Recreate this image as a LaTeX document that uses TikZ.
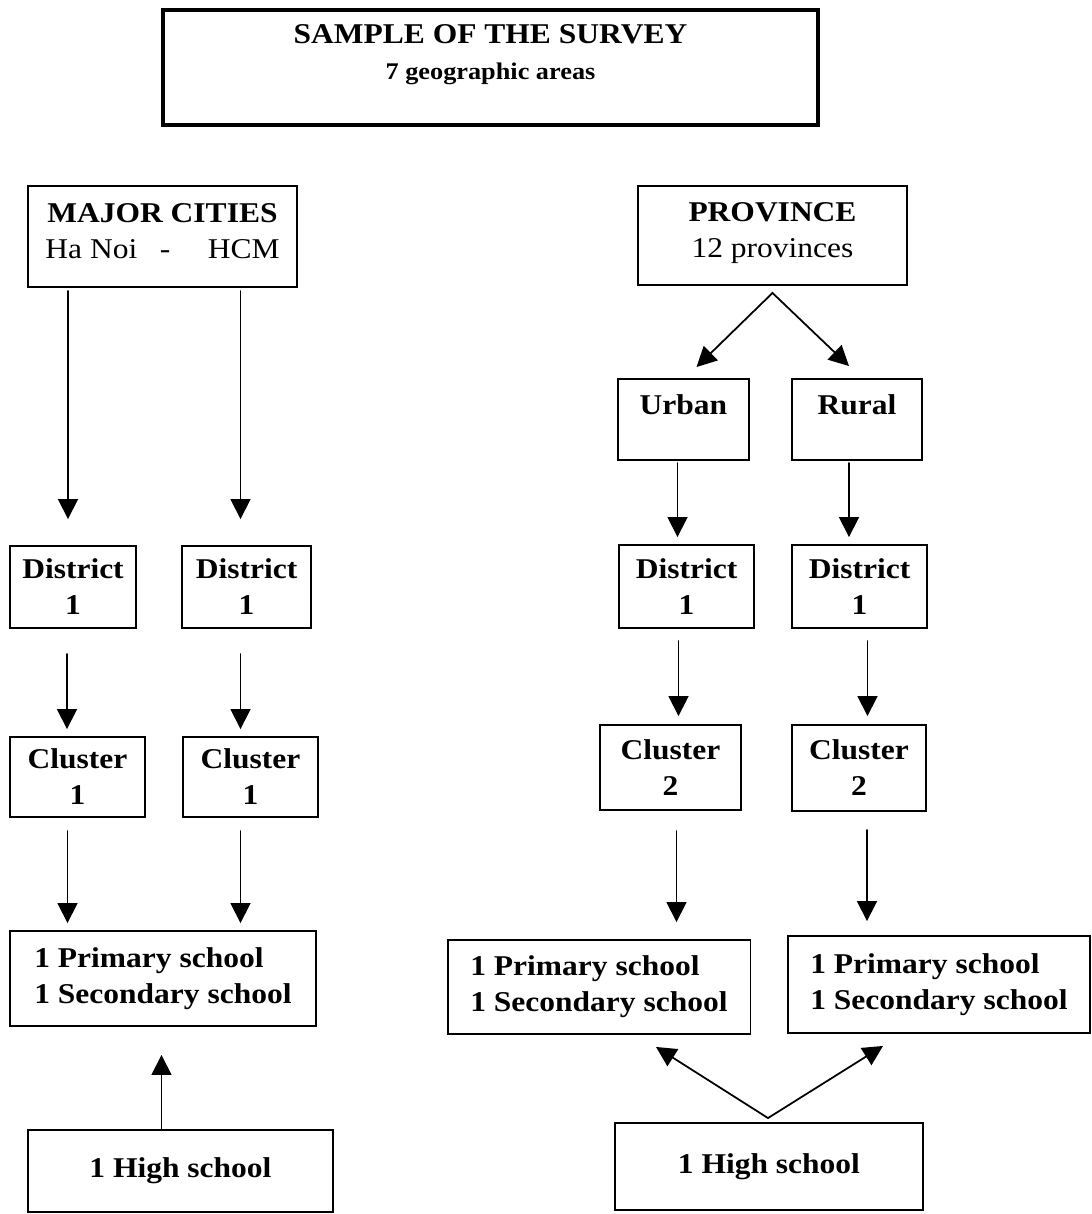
\documentclass[tikz,border=0pt]{standalone}
\usepackage{fontspec}
\setmainfont{Liberation Serif}[FakeStretch=1.1]
\usepackage{tikz}
\usetikzlibrary{calc}
\usetikzlibrary{arrows.meta}
\tikzstyle{every node}=[font=\fontsize{16.3}{20.5}\selectfont\bfseries]
\tikzstyle{box}=[draw, line width=1.1pt, inner sep=0pt, align=center]
\tikzstyle{school}=[box, align=left]

\begin{document}
\begin{tikzpicture}[line cap=round,line join=miter,>={Triangle[length=0.4cm,width=0.4cm]},x=0.02cm,y=-0.02cm]
\useasboundingbox (0,0) rectangle (1092,1214);
% title
\node[box, line width=2.2pt, minimum width=13.1cm, minimum height=2.3cm, text depth=0.62cm] (sample) at (490.5,67.5) {SAMPLE OF THE SURVEY\\{\fontsize{13.6}{17}\selectfont 7 geographic areas}};
% major cities
\node[box, minimum width=5.38cm, minimum height=2.02cm, text depth=0.22cm] (cities) at (162.5,236.5) {MAJOR CITIES\\\mdseries Ha Noi\hspace{0.45cm}-\hspace{0.75cm}HCM};
\node[box, minimum width=2.52cm, minimum height=1.64cm] (dLa) at (73,587) {District\\1};
\node[box, minimum width=2.58cm, minimum height=1.64cm] (dLb) at (246.5,587) {District\\1};
\node[box, minimum width=2.7cm, minimum height=1.6cm] (cLa) at (77.5,777) {Cluster\\1};
\node[box, minimum width=2.7cm, minimum height=1.6cm] (cLb) at (250.5,777) {Cluster\\1};
\node[school, minimum width=6.12cm, minimum height=1.9cm] (sL) at (163,978.5) {1 Primary school\\1 Secondary school};
\node[box, minimum width=6.1cm, minimum height=1.64cm] (hL) at (180.5,1171) {1 High school};
% province
\node[box, minimum width=5.38cm, minimum height=1.98cm, text depth=0.2cm] (prov) at (772.5,235.5) {PROVINCE\\\mdseries 12 provinces};
\node[box, minimum width=2.62cm, minimum height=1.62cm, text depth=0.58cm] (urban) at (683.5,419.5) {Urban};
\node[box, minimum width=2.6cm, minimum height=1.62cm, text depth=0.58cm] (rural) at (857,419.5) {Rural};
\node[box, minimum width=2.7cm, minimum height=1.66cm] (dRa) at (686.5,586.5) {District\\1};
\node[box, minimum width=2.7cm, minimum height=1.66cm] (dRb) at (859.5,586.5) {District\\1};
\node[box, minimum width=2.82cm, minimum height=1.7cm] (cRa) at (670.5,767.5) {Cluster\\2};
\node[box, minimum width=2.68cm, minimum height=1.72cm] (cRb) at (859,768) {Cluster\\2};
\node[school, minimum width=6.06cm, minimum height=1.88cm] (sRa) at (599,987) {1 Primary school\\1 Secondary school};
\node[school, minimum width=6.04cm, minimum height=1.94cm] (sRb) at (939,984.5) {1 Primary school\\1 Secondary school};
\node[box, minimum width=6.16cm, minimum height=1.74cm, text depth=0.1cm] (hR) at (769,1166.5) {1 High school};
% arrows, left side
\draw [->,line width=1pt] ($(dLa.north |- cities.south)+(-5,3)$) -- ($(dLa.north)+(-5,-26)$);
\draw [->,line width=1pt] ($(dLb.north |- cities.south)+(-6,3)$) -- ($(dLb.north)+(-6,-26)$);
\draw [->,line width=1pt] ($(dLa.south)+(-6,25)$) -- ($(dLa.south |- cLa.north)+(-6,-7)$);
\draw [->,line width=1pt] ($(dLb.south)+(-6,25)$) -- ($(dLb.south |- cLb.north)+(-6,-7)$);
\draw [->,line width=1pt] ($(cLa.south)+(-10,13)$) -- ($(cLa.south |- sL.north)+(-10,-7)$);
\draw [->,line width=1pt] ($(cLb.south)+(-10,13)$) -- ($(cLb.south |- sL.north)+(-10,-7)$);
\draw [->,line width=1pt] ($(hL.north)+(-19,0)$) -- ($(hL.north |- sL.south)+(-19,28)$);
% arrows, right side
\draw [<->,line width=1pt] ($(urban.north)+(13,-11)$) -- ($(prov.south)+(0,7)$) -- ($(rural.north)+(-8,-12)$);
\draw [->,line width=1pt] ($(urban.south)+(-6,2)$) -- ($(urban.south |- dRa.north)+(-6,-7)$);
\draw [->,line width=1pt] ($(rural.south)+(-8,2)$) -- ($(rural.south |- dRb.north)+(-8,-7)$);
\draw [->,line width=1pt] ($(dRa.south)+(-8,12)$) -- ($(dRa.south |- cRa.north)+(-8,-8)$);
\draw [->,line width=1pt] ($(dRb.south)+(8,12)$) -- ($(dRb.south |- cRb.north)+(8,-8)$);
\draw [->,line width=1pt] ($(cRa.south)+(6,20)$) -- ($(cRa.south |- sRa.north)+(6,-17)$);
\draw [->,line width=1pt] ($(cRb.south)+(8,18)$) -- ($(cRb.south |- sRb.north)+(8,-14)$);
\draw [<->,line width=1pt] ($(sRa.south)+(57,12)$) -- ($(hR.north)+(-1,-4)$) -- ($(sRb.south)+(-56,12)$);
\end{tikzpicture}
\end{document}
